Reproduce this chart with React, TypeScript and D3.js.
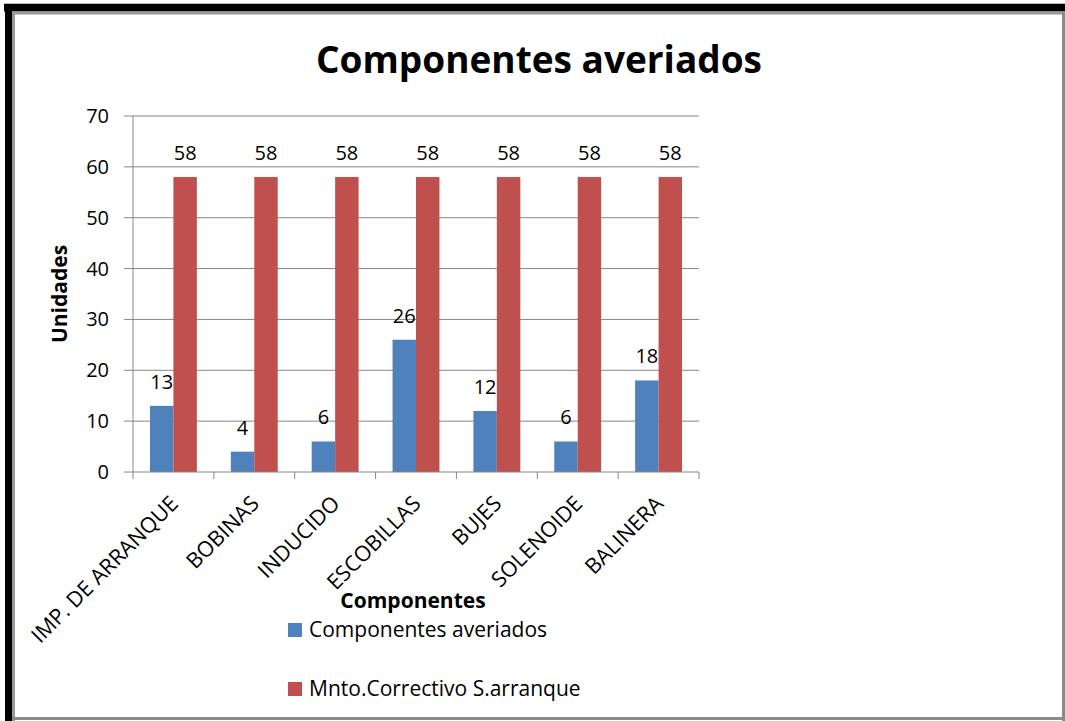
import React from "react";
import * as d3 from "d3";

const categories = ["IMP. DE ARRANQUE", "BOBINAS", "INDUCIDO", "ESCOBILLAS", "BUJES", "SOLENOIDE", "BALINERA"];
const averiados = [13, 4, 6, 26, 12, 6, 18];
const correctivo = [58, 58, 58, 58, 58, 58, 58];
const seriesNames = ["Componentes averiados", "Mnto.Correctivo S.arranque"];
const seriesColors = ["#4F81BD", "#C0504D"];
const yTicks = [0, 10, 20, 30, 40, 50, 60, 70];

const FONT = "'Open Sans', sans-serif";

export default function App() {
  const W = 1065, H = 721;
  const left = 133, right = 699, top = 116, bottom = 472;
  const x = d3.scaleBand().domain(categories).range([left, right]).paddingInner(0).paddingOuter(0);
  const y = d3.scaleLinear().domain([0, 70]).range([bottom, top]);
  const bw = x.bandwidth();
  const groupW = bw * 0.58;
  const barW = groupW / 2;
  const series = [averiados, correctivo];

  return (
    <svg width={W} height={H} style={{ position: "absolute", left: 0, top: 0, background: "#fff" }}>
      <rect x={0} y={0} width={W} height={H} fill="#fff" />
      {/* frame */}
      <rect x={4} y={3} width={W - 4} height={1} fill="#bbb" />
      <rect x={4} y={4} width={W - 4} height={7.5} fill="#000" />
      <rect x={5} y={4} width={7} height={H - 4} fill="#000" />
      <rect x={12} y={11.5} width={W - 12} height={3} fill="#999" />
      <rect x={12} y={11.5} width={3} height={H - 11.5} fill="#999" />
      <rect x={1062} y={12} width={3} height={H - 12} fill="#8a8a8a" />
      <rect x={12} y={717} width={W - 12} height={3} fill="#8a8a8a" />

      {/* title */}
      <text x={539} y={73} textAnchor="middle" fontFamily={FONT} fontWeight="bold" fontSize={37} fill="#000">
        Componentes averiados
      </text>

      {/* gridlines */}
      {yTicks.map((t) => (
        <g key={t}>
          {t > 0 && <line x1={left} x2={right} y1={y(t)} y2={y(t)} stroke="#868686" strokeWidth={1} />}
          <line x1={left - 9} x2={left} y1={y(t)} y2={y(t)} stroke="#868686" strokeWidth={1} />
          <text x={left - 24} y={y(t)} dy="0.35em" textAnchor="end" fontFamily={FONT} fontSize={20} fill="#000">
            {t}
          </text>
        </g>
      ))}

      {/* bars */}
      {series.map((s, si) =>
        categories.map((c, i) => {
          const bx = (x(c) as number) + (bw - groupW) / 2 + si * barW;
          return (
            <g key={`${si}-${i}`}>
              <rect x={bx} y={y(s[i])} width={barW} height={bottom - y(s[i])} fill={seriesColors[si]} />
              <text x={bx + barW / 2} y={y(s[i]) - 17} textAnchor="middle" fontFamily={FONT} fontSize={20} fill="#000">
                {s[i]}
              </text>
            </g>
          );
        })
      )}

      {/* axes */}
      <line x1={left} x2={left} y1={top} y2={bottom} stroke="#868686" strokeWidth={1} />
      <line x1={left} x2={right} y1={bottom} y2={bottom} stroke="#868686" strokeWidth={1} />
      {d3.range(categories.length + 1).map((i) => {
        const tx = left + i * bw;
        return <line key={i} x1={tx} x2={tx} y1={bottom} y2={bottom + 7} stroke="#868686" strokeWidth={1} />;
      })}

      {/* category labels */}
      {categories.map((c) => {
        const cx = (x(c) as number) + bw / 2 + 6;
        const cy = 505;
        return (
          <text key={c} x={cx} y={cy} textAnchor="end" transform={`rotate(-45 ${cx} ${cy})`} fontFamily={FONT} fontSize={21.5} fill="#000">
            {c}
          </text>
        );
      })}

      {/* axis titles */}
      <text x={413} y={608} textAnchor="middle" fontFamily={FONT} fontWeight="bold" fontSize={21} fill="#000">
        Componentes
      </text>
      <text x={67} y={294} textAnchor="middle" transform="rotate(-90 67 294)" fontFamily={FONT} fontWeight="bold" fontSize={21} fill="#000">
        Unidades
      </text>

      {/* legend */}
      {seriesNames.map((n, i) => {
        const ly = 630 + i * 59;
        return (
          <g key={n}>
            <rect x={288} y={ly - 7} width={14} height={14} fill={seriesColors[i]} />
            <text x={309} y={ly} dy="0.35em" fontFamily={FONT} fontSize={21} fill="#000">
              {n}
            </text>
          </g>
        );
      })}
    </svg>
  );
}
